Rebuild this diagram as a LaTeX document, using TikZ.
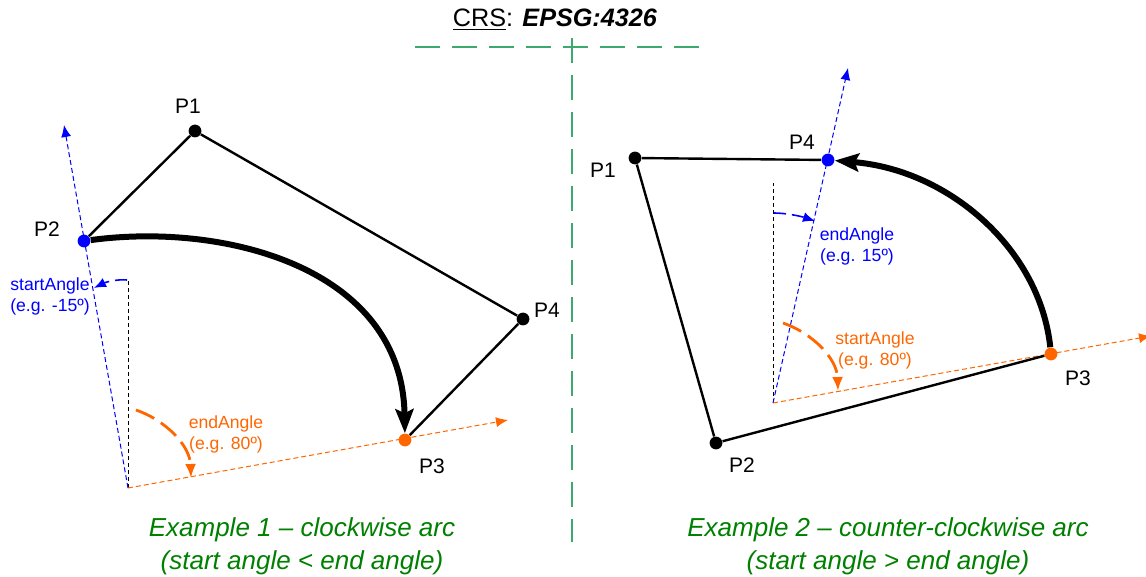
\documentclass[tikz,border=0pt]{standalone}
\usepackage{fontspec}
\setmainfont{Liberation Sans}
\usepackage{tikz}
\usetikzlibrary{arrows.meta,backgrounds}
\definecolor{arcorange}{RGB}{255,102,0}
\definecolor{crsgreen}{RGB}{60,170,110}
\definecolor{capgreen}{RGB}{0,128,0}
\tikzset{
  pdot/.style={circle,fill=#1,inner sep=0pt,minimum size=6.4pt},
  plbl/.style={font=\fontsize{10.5}{12}\selectfont,inner sep=0pt},
  polyedge/.style={line width=1.2pt,black},
  bigarc/.style={-{Stealth[length=12pt,width=9pt,inset=2pt]},line width=3pt},
  ray/.style={-{Latex[length=6pt,width=5pt]},line width=0.5pt,
    dash pattern=on 2.5pt off 1.5pt,draw=#1},
  vline/.style={line width=0.5pt,dash pattern=on 2pt off 1.5pt},
  angarc/.style={-{Latex[length=7pt,width=5.5pt]},line width=1.4pt,
    dash pattern=on 10pt off 4pt,draw=#1},
  smallarc/.style={-{Latex[length=6pt,width=5pt]},line width=0.8pt,
    dash pattern=on 6pt off 3pt,draw=#1},
  anglbl/.style={font=\fontsize{8.8}{10.5}\selectfont,align=center,
    inner sep=0pt,text=#1},
  caption/.style={font=\fontsize{13}{16.5}\selectfont\itshape,
    align=center,inner sep=0pt,text=capgreen},
  sepline/.style={crsgreen,line width=0.8pt,dash pattern=on 12.5pt off 6pt},
}
\begin{document}
\begin{tikzpicture}[x=0.5pt,y=-0.5pt]
  \useasboundingbox (0,0) rectangle (1146,577);
  % title and separators
  \node[font=\fontsize{12.6}{14}\selectfont,inner sep=0pt] (crs) at (555,20)
    {\underline{CRS}: \textbf{\textit{EPSG:4326}}};
  \coordinate (hsepl) at (415,47);  \coordinate (hsepr) at (710,47);
  \coordinate (vsept) at (572,38);  \coordinate (vsepb) at (572,542);
  \draw[sepline] (hsepl) -- (hsepr);
  \draw[sepline] (vsept) -- (vsepb);

  % example 1
  \node[pdot=black] (lp1) at (195,131) {};
  \node[pdot=blue] (lp2) at (84,241) {};
  \node[pdot=arcorange] (lp3) at (405,440) {};
  \node[pdot=black] (lp4) at (523,319) {};
  \node[plbl] (lp1l) at (188,106) {P1};
  \node[plbl] (lp2l) at (47,229) {P2};
  \node[plbl] (lp3l) at (432,466) {P3};
  \node[plbl] (lp4l) at (547,310) {P4};
  \coordinate (lo) at (128,488);
  \coordinate (lvt) at (128,279);
  \coordinate (lbtip) at (64,125);
  \coordinate (lotip) at (508,420);
  \coordinate (lsa) at (127,280);
  \coordinate (lsatip) at (94,288);
  \coordinate (lea) at (136,410);
  \coordinate (leatip) at (191,478);
  \begin{scope}[on background layer]
    \draw[vline] (lo) -- (lvt);
    \draw[ray=blue] (lo) -- (lbtip);
    \draw[ray=arcorange] (lo) -- (lotip);
    \draw[smallarc=blue] (lsa) .. controls (118,279) and (106,282) .. (lsatip);
    \draw[angarc=arcorange] (lea) .. controls (165,420) and (190,445) .. (leatip);
    \draw[polyedge] (lp2) -- (lp1) -- (lp4) -- (lp3);
  \end{scope}
  \draw[bigarc] (lp2) .. controls (225,222) and (402,268) .. (lp3);
  \node[anglbl=blue] (lsal) at (50,296) {startAngle\\(e.g. -15º)};
  \node[anglbl=arcorange] (leal) at (226,434) {endAngle\\(e.g. 80º)};
  \node[caption] (cap1) at (302,546)
    {Example 1 – clockwise arc\\(start angle < end angle)};

  % example 2
  \node[pdot=black] (rp1) at (635,158) {};
  \node[pdot=black] (rp2) at (716,443) {};
  \node[pdot=arcorange] (rp3) at (1051,354) {};
  \node[pdot=blue] (rp4) at (828,160) {};
  \node[plbl] (rp1l) at (603,170) {P1};
  \node[plbl] (rp2l) at (742,465) {P2};
  \node[plbl] (rp3l) at (1078,378) {P3};
  \node[plbl] (rp4l) at (802,142) {P4};
  \coordinate (ro) at (773,403);
  \coordinate (rvt) at (773,183);
  \coordinate (rbtip) at (848,68);
  \coordinate (rotip) at (1151,336);
  \coordinate (rea) at (774,213);
  \coordinate (reatip) at (815,221);
  \coordinate (rsa) at (783,323);
  \coordinate (rsatip) at (838,391);
  \begin{scope}[on background layer]
    \draw[vline] (ro) -- (rvt);
    \draw[ray=blue] (ro) -- (rbtip);
    \draw[ray=arcorange] (ro) -- (rotip);
    \draw[smallarc=blue] (rea) .. controls (785,213) and (800,216) .. (reatip);
    \draw[angarc=arcorange] (rsa) .. controls (812,333) and (837,358) .. (rsatip);
    \draw[polyedge] (rp4) -- (rp1) -- (rp2) -- (rp3);
  \end{scope}
  \draw[bigarc] (rp3) .. controls (1040,250) and (950,170) .. (rp4);
  \node[anglbl=blue] (real) at (857,246) {endAngle\\(e.g. 15º)};
  \node[anglbl=arcorange] (rsal) at (875,350) {startAngle\\(e.g. 80º)};
  \node[caption] (cap2) at (888,546)
    {Example 2 – counter-clockwise arc\\(start angle > end angle)};
\end{tikzpicture}
\end{document}
